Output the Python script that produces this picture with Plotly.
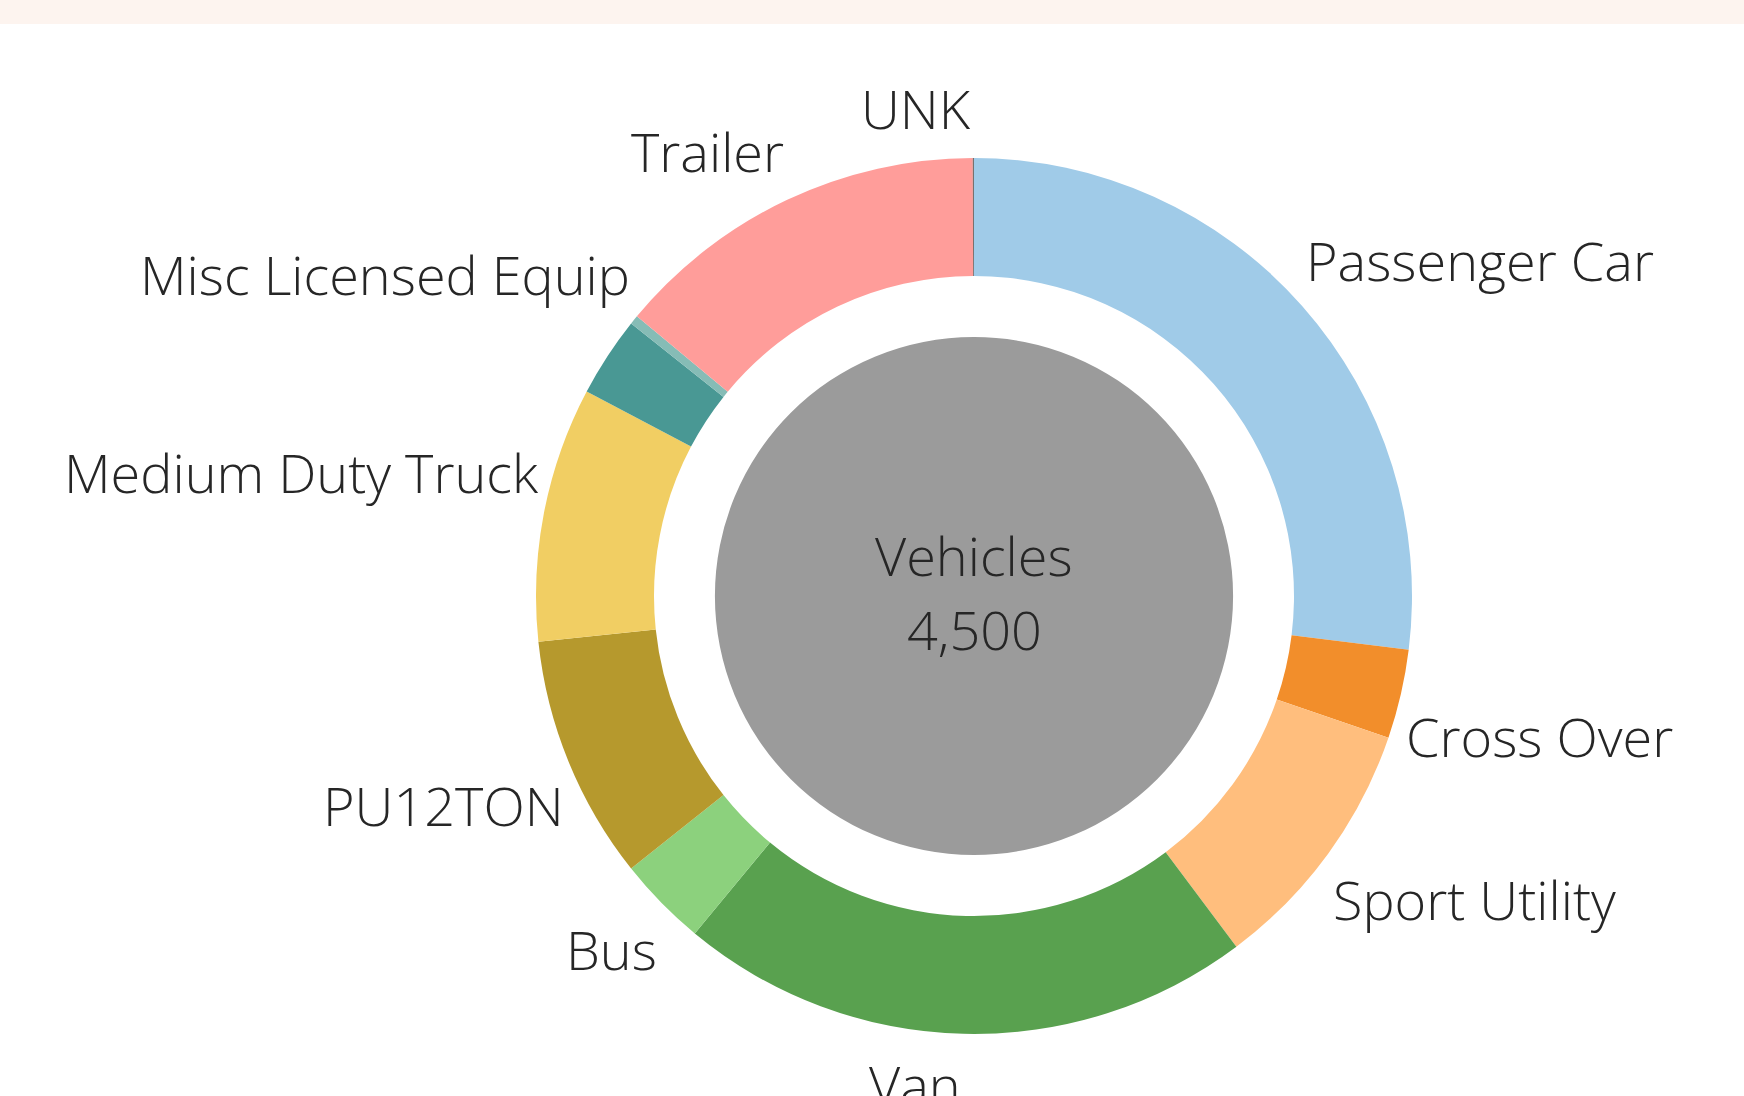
import math
import plotly.graph_objects as go

# ---- data ----
categories = ["Passenger Car", "Cross Over", "Sport Utility", "Van", "Bus", "PU12TON",
              "Medium Duty Truck", "Heavy Duty Truck", "Misc Licensed Equip", "Trailer", "UNK"]
vehicles = [1213, 148, 429, 955, 149, 406, 423, 133, 15, 627, 2]
slice_colors = ["#A0CBE8", "#F28E2B", "#FFBE7D", "#59A14F", "#8CD17D", "#B6992D",
                "#F1CE63", "#499894", "#86BCB6", "#FF9D9A", "#79706E"]
hidden_labels = ["Heavy Duty Truck"]   # label suppressed in the reference (overlap)
center_title = "Vehicles"

# ---- layout constants ----
W, H = 1744, 1096
cx_px, cy_px = 974, 596
r_out = 438
r_in = 320
r_center = 259
label_gap = 11
label_xshift = 8
font_family = "Open Sans, Noto Sans, sans-serif"
font_size = 54
text_color = "#262626"

def dom(r):
    return dict(x=[(cx_px - r) / W, (cx_px + r) / W],
                y=[1 - (cy_px + r) / H, 1 - (cy_px - r) / H])

fig = go.Figure()
fig.add_trace(go.Pie(
    labels=categories, values=vehicles, sort=False, direction="clockwise", rotation=0,
    hole=r_in / r_out, marker=dict(colors=slice_colors, line=dict(width=0)),
    textinfo="none", hoverinfo="label+value", domain=dom(r_out), showlegend=False,
))
total = sum(vehicles)
fig.add_trace(go.Pie(
    labels=[center_title], values=[total], sort=False, marker=dict(colors=["#9B9B9B"], line=dict(width=0)),
    textinfo="none", hoverinfo="label+value", domain=dom(r_center), showlegend=False,
))

label_font = dict(family=font_family, size=font_size, color=text_color, weight=300)

# labels placed at each slice's mid-angle just outside the ring
annotations = []
cum = 0
for name, v in zip(categories, vehicles):
    mid = (cum + v / 2) / total * 2 * math.pi
    cum += v
    if name in hidden_labels:
        continue
    R = r_out + label_gap
    s = 1 if math.sin(mid) > 0 else -1
    px = cx_px + R * math.sin(mid) - s * label_xshift * abs(math.sin(mid))
    py = cy_px - R * math.cos(mid)
    annotations.append(dict(
        x=px / W, y=1 - py / H, xref="paper", yref="paper", text=name, showarrow=False,
        xanchor="left" if s > 0 else "right",
        yanchor="bottom" if math.cos(mid) > 0 else "top",
        font=label_font,
    ))
for txt, dy in [(center_title, -41), (f"{total:,}", 33)]:
    annotations.append(dict(
        x=cx_px / W, y=1 - (cy_px + dy) / H, xref="paper", yref="paper",
        text=txt, showarrow=False, yanchor="middle", font=label_font,
    ))

fig.update_layout(
    width=W, height=H, margin=dict(l=0, r=0, t=0, b=0),
    paper_bgcolor="white", plot_bgcolor="white",
    annotations=annotations,
    shapes=[dict(type="rect", xref="paper", yref="paper", x0=0, x1=1, y0=1 - 24 / H, y1=1,
                 fillcolor="#FDF4EF", line=dict(width=0), layer="below")],
)
fig.write_html("out.html", config={"displayModeBar": False},
               post_script="document.body.style.margin='0';document.body.style.padding='0';")
